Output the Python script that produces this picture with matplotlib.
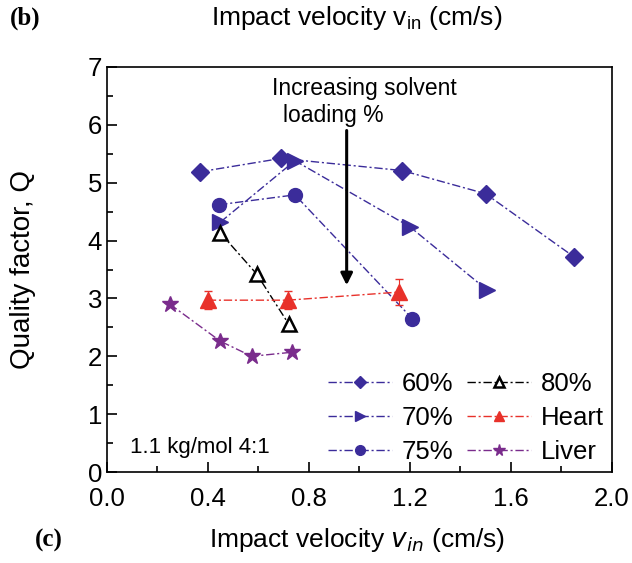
import numpy as np
import matplotlib.pyplot as plt
from matplotlib.ticker import MultipleLocator

plt.rcParams['font.family'] = 'Liberation Sans'

# Data
v_60 = [0.37, 0.69, 1.17, 1.50, 1.85]
q_60 = [5.19, 5.42, 5.21, 4.81, 3.72]

v_70 = [0.45, 0.745, 1.20, 1.505]
q_70 = [4.32, 5.38, 4.24, 3.15]

v_75 = [0.445, 0.745, 1.21]
q_75 = [4.62, 4.79, 2.65]

v_80 = [0.45, 0.594, 0.72]
q_80 = [4.13, 3.42, 2.56]

v_heart = [0.40, 0.717, 1.157]
q_heart = [2.97, 2.97, 3.11]
err_heart = [0.15, 0.15, 0.22]

v_liver = [0.25, 0.45, 0.574, 0.733]
q_liver = [2.90, 2.26, 2.00, 2.07]

blue = '#3b2c9a'
red = '#e8312a'
purple = '#7a2c8c'

fig = plt.figure(figsize=(6.32, 5.63), dpi=100)
ax = fig.add_axes([0.169, 0.1616, 0.799, 0.7194])

ls = (0, (6, 2, 1.5, 2))
h60, = ax.plot(v_60, q_60, linestyle=ls, color=blue, lw=1, marker='D', ms=9, mfc=blue, mec=blue, label='60%')
h70, = ax.plot(v_70, q_70, linestyle=ls, color=blue, lw=1, marker='>', ms=11, mfc=blue, mec=blue, label='70%')
h75, = ax.plot(v_75, q_75, linestyle=ls, color=blue, lw=1, marker='o', ms=10, mfc=blue, mec=blue, label='75%')
h80, = ax.plot(v_80, q_80, linestyle=ls, color='black', lw=1, marker='^', ms=10, mfc='white', mec='black', mew=1.8, label='80%')
ax.errorbar(v_heart, q_heart, yerr=err_heart, linestyle='none', ecolor=red, elinewidth=0.8, capsize=3)
hheart, = ax.plot(v_heart, q_heart, linestyle=ls, color=red, lw=1, marker='^', ms=11, mfc=red, mec=red, label='Heart')
hliver, = ax.plot(v_liver, q_liver, linestyle=ls, color=purple, lw=1, marker='*', ms=12, mfc=purple, mec=purple, label='Liver')

# arrow and annotations
ax.annotate('', xy=(0.95, 3.18), xytext=(0.95, 5.95),
            arrowprops=dict(arrowstyle='-|>,head_length=0.7,head_width=0.35', color='black', lw=2.2))
ax.text(0.653, 6.63, 'Increasing solvent', fontsize=16.5, ha='left', va='center')
ax.text(0.697, 6.17, 'loading %', fontsize=16.5, ha='left', va='center')
ax.text(0.09, 0.43, '1.1 kg/mol 4:1', fontsize=16, ha='left', va='center')

ax.set_xlim(0, 2.0)
ax.set_ylim(0, 7)
ax.xaxis.set_major_locator(MultipleLocator(0.4))
ax.xaxis.set_minor_locator(MultipleLocator(0.2))
ax.yaxis.set_major_locator(MultipleLocator(1))
ax.yaxis.set_minor_locator(MultipleLocator(0.5))
ax.xaxis.set_major_formatter(plt.FuncFormatter(lambda v, p: '%.1f' % v))
ax.tick_params(which='major', direction='in', length=7, width=1.2, labelsize=18.5, top=False, right=False)
ax.tick_params(axis='x', which='major', pad=11)
ax.tick_params(which='minor', direction='in', length=4, width=1.2, top=False, right=False)
for s in ax.spines.values():
    s.set_linewidth(1.2)

ax.set_ylabel('Quality factor, Q', fontsize=20)
ax.yaxis.set_label_coords(-0.14, 0.5)

ax.legend(handles=[h60, h70, h75, h80, hheart, hliver], ncol=2, loc='lower right', frameon=False,
          fontsize=18.5, handlelength=2.5, markerscale=0.7, handletextpad=0.4, columnspacing=0.5,
          labelspacing=0.4, borderaxespad=0.0, borderpad=0.3)

fig.text(0.565, 0.968, r'Impact velocity v$_{\mathregular{in}}$ (cm/s)', fontsize=19, ha='center', va='center')
fig.text(0.016, 0.968, '(b)', fontsize=18, fontweight='bold', family='Liberation Serif', ha='left', va='center')
fig.text(0.565, 0.04, r'Impact velocity $v_{in}$ (cm/s)', fontsize=19, ha='center', va='center')
fig.text(0.055, 0.04, '(c)', fontsize=18, fontweight='bold', family='Liberation Serif', ha='left', va='center')

fig.savefig('out.png', dpi=100)
